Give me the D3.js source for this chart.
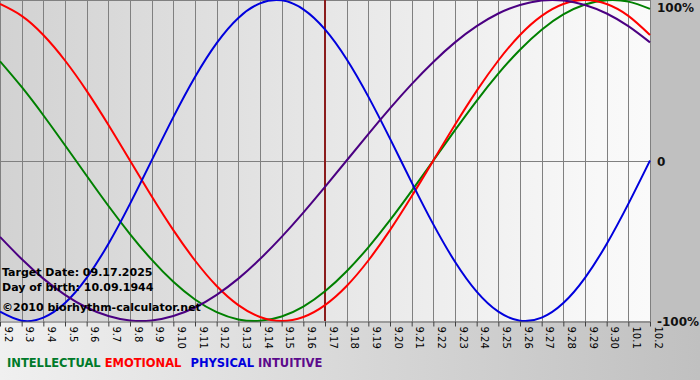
<!DOCTYPE html>
<html lang="en-US">
<head>
<meta charset="utf-8">
<style>
  body { margin: 0; background: #c8c8c8; }
  svg { display: block; }
</style>
</head>
<body>
<div id="chart"></div>
<script src="https://cdnjs.cloudflare.com/ajax/libs/d3/7.8.5/d3.min.js"></script>
<script>
var WIDTH = 700;
var HEIGHT = 380;

// days shown on the x axis (9.2 .. 10.2)
var days = ['9.2','9.3','9.4','9.5','9.6','9.7','9.8','9.9','9.10','9.11','9.12','9.13','9.14','9.15','9.16','9.17',
            '9.18','9.19','9.20','9.21','9.22','9.23','9.24','9.25','9.26','9.27','9.28','9.29','9.30','10.1','10.2'];

// cycle values, -1 .. 1
var physical = [-0.942,-0.998,-0.979,-0.888,-0.731,-0.520,-0.270,0.000,0.270,0.520,0.731,0.888,0.979,0.998,0.942,0.817,
                0.631,0.398,0.136,-0.136,-0.398,-0.631,-0.817,-0.942,-0.998,-0.979,-0.888,-0.731,-0.520,-0.270,0.000];
var emotional = [0.975,0.901,0.782,0.623,0.434,0.223,0.000,-0.223,-0.434,-0.623,-0.782,-0.901,-0.975,-1.000,-0.975,-0.901,
                 -0.782,-0.623,-0.434,-0.223,0.000,0.223,0.434,0.623,0.782,0.901,0.975,1.000,0.975,0.901,0.782];
var intellectual = [0.618,0.458,0.282,0.095,-0.095,-0.282,-0.458,-0.618,-0.756,-0.866,-0.945,-0.990,-0.999,-0.972,-0.910,-0.815,
                    -0.690,-0.541,-0.372,-0.189,0.000,0.189,0.372,0.541,0.690,0.815,0.910,0.972,0.999,0.990,0.945];
var intuitive = [-0.476,-0.614,-0.736,-0.837,-0.916,-0.969,-0.997,-0.997,-0.969,-0.916,-0.837,-0.736,-0.614,-0.476,-0.325,-0.165,
                 0.000,0.165,0.325,0.476,0.614,0.736,0.837,0.916,0.969,0.997,0.997,0.969,0.916,0.837,0.736];

var targetDay = '9.17';
var yLabels = ['100%', '0', '-100%'];
var yLabelValues = [1, 0, -1];
var infoLines = ['Target Date: 09.17.2025', 'Day of birth: 10.09.1944', '\u00a92010 biorhythm-calculator.net'];

var series = [
  {name: 'INTELLECTUAL', values: intellectual, color: '#008000', legend: '#007a2a'},
  {name: 'EMOTIONAL', values: emotional, color: '#ff0000', legend: '#ff0000'},
  {name: 'PHYSICAL', values: physical, color: '#0000dd', legend: '#0000dd'},
  {name: 'INTUITIVE', values: intuitive, color: '#4b0082', legend: '#5c0a8c'}
];

var plotW = 651, plotH = 321;

var svg = d3.select('#chart').append('svg').attr('width', WIDTH).attr('height', HEIGHT);
var defs = svg.append('defs');

var outerGrad = defs.append('linearGradient').attr('id', 'outer').attr('x1', 0).attr('x2', 1).attr('y1', 0).attr('y2', 0);
outerGrad.append('stop').attr('offset', 0).attr('stop-color', '#f0f0f0');
outerGrad.append('stop').attr('offset', 1).attr('stop-color', '#c0c0c0');

var plotGrad = defs.append('linearGradient').attr('id', 'plotbg').attr('x1', 0).attr('x2', 1).attr('y1', 0).attr('y2', 0);
plotGrad.append('stop').attr('offset', 0).attr('stop-color', '#d2d2d2');
plotGrad.append('stop').attr('offset', 0.92).attr('stop-color', '#f8f8f8');
plotGrad.append('stop').attr('offset', 1).attr('stop-color', '#fafafa');

defs.append('clipPath').attr('id', 'clip').append('rect').attr('width', plotW).attr('height', plotH + 1);

svg.append('rect').attr('width', WIDTH).attr('height', HEIGHT).attr('fill', 'url(#outer)');
svg.append('rect').attr('x', plotW).attr('width', WIDTH - plotW).attr('height', plotH + 1).attr('fill', '#c0c0c0');
svg.append('rect').attr('width', plotW).attr('height', plotH).attr('fill', 'url(#plotbg)');

var x = d3.scalePoint().domain(days).range([0, 650]);
var y = d3.scaleLinear().domain([-1, 1]).range([plotH, 0]);

// vertical grid
svg.append('g').selectAll('line').data(days).join('line')
  .attr('x1', d => Math.round(x(d)) + 0.5).attr('x2', d => Math.round(x(d)) + 0.5)
  .attr('y1', 0).attr('y2', plotH)
  .attr('stroke', '#808080').attr('stroke-width', 1);

// top border and zero line
svg.append('line').attr('x1', 0).attr('x2', plotW).attr('y1', 0.5).attr('y2', 0.5).attr('stroke', '#808080');
svg.append('line').attr('x1', 0).attr('x2', plotW).attr('y1', Math.round(y(0)) + 0.5).attr('y2', Math.round(y(0)) + 0.5).attr('stroke', '#808080');

// target day marker
svg.append('line')
  .attr('x1', x(targetDay)).attr('x2', x(targetDay)).attr('y1', 0).attr('y2', plotH)
  .attr('stroke', '#8b1c1c').attr('stroke-width', 2);

var line = d3.line().x((d, i) => x(days[i])).y(d => y(d)).curve(d3.curveNatural);

svg.append('g').attr('clip-path', 'url(#clip)')
  .selectAll('path').data(series).join('path')
  .attr('d', d => line(d.values))
  .attr('fill', 'none')
  .attr('stroke', d => d.color)
  .attr('stroke-width', 2);

// bottom axis
var axis = svg.append('g').attr('transform', 'translate(0,' + (plotH + 0.5) + ')')
  .call(d3.axisBottom(x).tickSize(5).tickSizeOuter(0));
axis.select('.domain').attr('stroke', '#606060');
axis.selectAll('.tick line').attr('stroke', '#404040');
axis.selectAll('.tick text')
  .attr('transform', 'rotate(90)')
  .attr('x', 5).attr('y', -4)
  .attr('dy', 0)
  .style('text-anchor', 'start')
  .style('font-family', '"DejaVu Sans", Tahoma, sans-serif')
  .style('font-size', '10px')
  .attr('fill', '#000');

// right labels
svg.append('g').selectAll('text').data(yLabels).join('text')
  .attr('x', 657)
  .attr('y', (d, i) => y(yLabelValues[i]) + (i === 0 ? 12 : 5))
  .text(d => d)
  .style('font-family', '"DejaVu Sans", Verdana, sans-serif')
  .style('font-weight', 'bold')
  .style('font-size', '12px')
  .attr('fill', '#111');

// info text
svg.append('g').selectAll('text').data(infoLines).join('text')
  .attr('x', 2)
  .attr('y', (d, i) => [276, 291, 311][i])
  .text(d => d)
  .style('font-family', '"DejaVu Sans", Verdana, sans-serif')
  .style('font-weight', 'bold')
  .style('font-size', '11px')
  .attr('fill', '#000');

// legend
var legendGaps = [0, 4, 9, 4];
var legend = svg.append('text').attr('x', 7).attr('y', 367)
  .style('font-family', '"DejaVu Sans", Verdana, sans-serif')
  .style('font-weight', 'bold')
  .style('font-size', '11.5px');
legend.selectAll('tspan').data(series).join('tspan')
  .attr('fill', d => d.legend)
  .attr('dx', (d, i) => legendGaps[i])
  .text(d => d.name);
</script>
</body>
</html>
